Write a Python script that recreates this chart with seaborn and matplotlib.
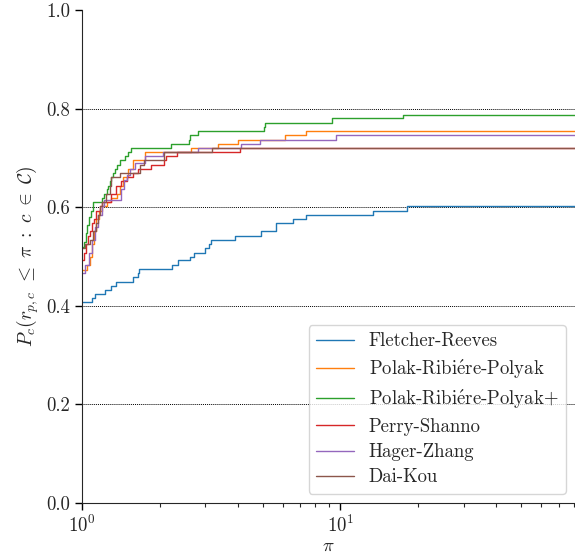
import numpy as np
import pandas as pd
import matplotlib
matplotlib.use("Agg")
import matplotlib.pyplot as plt
import seaborn as sns

# ---------------- data ----------------
solvers = ["Fletcher-Reeves", "Polak-Ribiére-Polyak", "Polak-Ribiére-Polyak+",
           "Perry-Shanno", "Hager-Zhang", "Dai-Kou"]
legend_labels = ["Fletcher-Reeves", r"Polak-Ribi$\acute{\mathrm{e}}$re-Polyak",
                 r"Polak-Ribi$\acute{\mathrm{e}}$re-Polyak+", "Perry-Shanno",
                 "Hager-Zhang", "Dai-Kou"]

fr_tau = [1.0, 1.09, 1.123, 1.228, 1.296, 1.355, 1.572, 1.644, 1.668, 2.227, 2.349,
          2.622, 2.724, 2.998, 3.114, 3.153, 3.894, 4.94, 5.65, 6.556, 7.364, 13.39, 18.14]
fr_p = [0.407, 0.415, 0.424, 0.432, 0.441, 0.449, 0.458, 0.466, 0.475, 0.483, 0.492,
        0.500, 0.508, 0.517, 0.525, 0.534, 0.542, 0.551, 0.568, 0.576, 0.585, 0.593, 0.602]

prp_tau = [1.0, 1.05, 1.07, 1.09, 1.11, 1.13, 1.16, 1.19, 1.25, 1.30, 1.37, 1.40,
           1.44, 1.507, 1.577, 1.75, 2.638, 3.376, 4.0, 6.083, 7.383]
prp_p = [0.473, 0.483, 0.500, 0.525, 0.551, 0.576, 0.593, 0.602, 0.610, 0.619, 0.627,
         0.644, 0.661, 0.678, 0.695, 0.712, 0.720, 0.729, 0.737, 0.746, 0.754]

prpp_tau = [1.0, 1.02, 1.035, 1.05, 1.065, 1.08, 1.10, 1.19, 1.22, 1.25, 1.265, 1.28,
            1.30, 1.32, 1.345, 1.365, 1.404, 1.468, 1.512, 1.549, 2.207, 2.606, 2.62,
            2.808, 5.043, 5.09, 9.29, 17.44]
prpp_p = [0.520, 0.530, 0.547, 0.564, 0.581, 0.593, 0.610, 0.619, 0.627, 0.636, 0.644,
          0.653, 0.661, 0.669, 0.678, 0.686, 0.695, 0.703, 0.712, 0.720, 0.729, 0.737,
          0.746, 0.754, 0.763, 0.771, 0.780, 0.788]

ps_tau = [1.0, 1.02, 1.04, 1.055, 1.07, 1.09, 1.11, 1.13, 1.17, 1.20, 1.30, 1.36,
          1.42, 1.50, 1.58, 1.65, 1.85, 2.07, 2.12, 2.33, 4.10]
ps_p = [0.493, 0.508, 0.525, 0.542, 0.551, 0.568, 0.576, 0.593, 0.602, 0.610, 0.627,
        0.644, 0.653, 0.661, 0.670, 0.678, 0.686, 0.695, 0.703, 0.712, 0.720]

hz_tau = [1.0, 1.03, 1.06, 1.09, 1.12, 1.15, 1.19, 1.22, 1.42, 1.45, 1.49, 1.53,
          1.60, 1.75, 2.066, 2.80, 4.126, 4.897, 9.62]
hz_p = [0.466, 0.483, 0.508, 0.534, 0.559, 0.585, 0.602, 0.615, 0.636, 0.655, 0.665,
        0.678, 0.690, 0.703, 0.712, 0.720, 0.729, 0.737, 0.746]

dk_tau = [1.0, 1.03, 1.07, 1.10, 1.13, 1.15, 1.17, 1.20, 1.24, 1.28, 1.30, 1.40,
          1.68, 1.74, 2.08, 3.20]
dk_p = [0.517, 0.525, 0.534, 0.551, 0.568, 0.585, 0.602, 0.610, 0.627, 0.644, 0.661,
        0.669, 0.686, 0.695, 0.712, 0.720]

tau_max = 81.0
y_ticks = [0.0, 0.2, 0.4, 0.6, 0.8, 1.0]

# ---------------- build long table ----------------
series = [(fr_tau, fr_p), (prp_tau, prp_p), (prpp_tau, prpp_p),
          (ps_tau, ps_p), (hz_tau, hz_p), (dk_tau, dk_p)]
rows = []
for name, (t, p) in zip(solvers, series):
    tt = list(t) + [tau_max]
    pp = list(p) + [p[-1]]
    for a, b in zip(tt, pp):
        rows.append({"tau": a, "P": b, "solver": name})
df = pd.DataFrame(rows)

# ---------------- style ----------------
sns.set_style("ticks")
plt.rcParams["font.family"] = ["cmr10", "DejaVu Serif"]
plt.rcParams["mathtext.fontset"] = "cm"
plt.rcParams["axes.formatter.use_mathtext"] = True
plt.rcParams["font.size"] = 13.5
plt.rcParams["axes.unicode_minus"] = False

fig = plt.figure(figsize=(5.75, 5.57), dpi=100)
ax = fig.add_axes([82 / 575, 54 / 557, 493 / 575, 493 / 557])

sns.lineplot(data=df, x="tau", y="P", hue="solver", hue_order=solvers,
             palette=sns.color_palette("tab10", 6), drawstyle="steps-post",
             estimator=None, sort=True, linewidth=1.0, ax=ax)

ax.set_xscale("log")
ax.set_xlim(1.0, tau_max)
ax.set_ylim(0.0, 1.0)
ax.set_yticks(y_ticks)
ax.set_yticklabels([f"{v:.1f}" for v in y_ticks])
for v in y_ticks[1:-1]:
    ax.axhline(v, color="black", linestyle=(0, (1, 1)), linewidth=0.7, zorder=0)

ax.spines["top"].set_visible(False)
ax.spines["right"].set_visible(False)
ax.tick_params(axis="both", which="major", direction="out", length=5, width=1.0,
               labelsize=13.5, color="black")
ax.tick_params(axis="x", which="minor", direction="out", length=3, width=0.8)

ax.set_xlabel(r"$\pi$", fontsize=13.5, labelpad=1)
ax.set_ylabel(r"$P_c(r_{p,c}\ \leq\ \pi\ :\ c\ \in\ \mathcal{C})$", fontsize=14)

handles, _ = ax.get_legend_handles_labels()
leg = ax.legend(handles, legend_labels, loc="lower right", fontsize=13.5, frameon=True,
                fancybox=True, framealpha=0.8, edgecolor="#cccccc",
                labelspacing=0.38)

fig.savefig("out.png", dpi=100)
